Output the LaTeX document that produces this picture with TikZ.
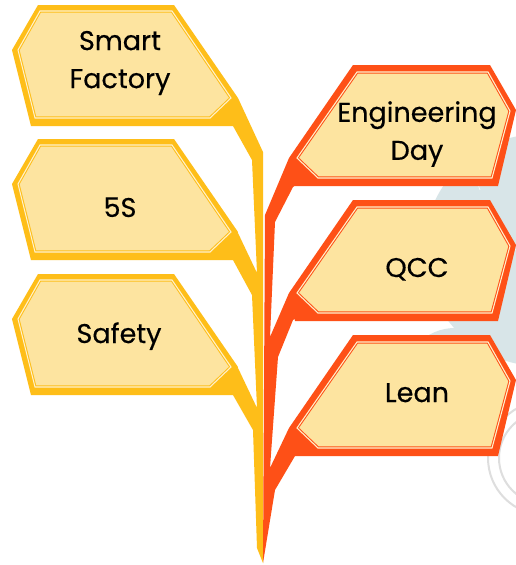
\documentclass[tikz,border=0pt]{standalone}
\usepackage{fontspec}
\setmainfont{Poppins}
\newfontfamily\labelfont{Poppins}[FakeBold=0.35]
\definecolor{ybord}{HTML}{FEBE19}
\definecolor{obord}{HTML}{FE5017}
\definecolor{cream}{HTML}{FDE4A0}
\definecolor{lightline}{HTML}{FFF1CC}
\definecolor{bgblue}{HTML}{D8E5E8}
\definecolor{ring}{HTML}{DEDEDE}
\newcommand\yellowbox[1]{%
\begin{scope}[shift={(0,#1)}]
\fill[ybord] (38,0) -- (174,0) -- (238,93) -- (233,121) -- (31,121) -- (12,45) -- cycle;
\path[innerbox, draw=ybord] (40,6) -- (172,6) -- (231,93) -- (210,113) -- (35,113) -- (18,45) -- cycle;
\end{scope}}
\newcommand\orangebox[1]{%
\begin{scope}[shift={(0,#1)}]
\fill[obord] (353,0) -- (490,0) -- (516,45) -- (498,121) -- (295,121) -- (289,93) -- cycle;
\path[innerbox, draw=obord] (357,7) -- (488,7) -- (510,46) -- (492,113) -- (318,113) -- (297,93) -- cycle;
\end{scope}}
\begin{document}
\begin{tikzpicture}[x=0.75pt,y=-0.75pt,
  innerbox/.style={fill=cream, line width=0.75pt, double=lightline, double distance=0.8pt},
  label/.style={font=\labelfont\fontsize{20.3}{28.5}\selectfont, align=center, inner sep=0pt, text=black}]
\clip (0,0) rectangle (516,565);
\fill[white] (0,0) rectangle (516,565);
% background decoration
\fill[bgblue] (540,250) circle[radius=116];
\draw[white, line width=0.6pt, opacity=0.7] (470,300) arc[start angle=200, end angle=250, radius=90];
\draw[white, line width=0.6pt, opacity=0.7] (480,190) arc[start angle=160, end angle=200, radius=120];
\fill[bgblue] (455,380) circle[radius=52];
\draw[ring, line width=1.5pt] (545,458) circle[radius=57];
\draw[ring, line width=1.5pt] (545,458) circle[radius=46];
% yellow stem
\fill[ybord] (238,98) -- (263,152) -- (263,563) -- (257,548) -- (253,430) -- (233,395) -- (215,380) -- (238,368)
  -- (257,408) -- (252,295) -- (233,260) -- (215,245) -- (238,233) -- (257,273) -- (252,160) -- (233,126) -- (215,110) -- cycle;
% orange stem
\fill[obord] (289,158) -- (265,215) -- (263,563) -- (275,490) -- (295,456) -- (320,440) -- (289,428) -- (270,468)
  -- (278,357) -- (293,320) -- (318,305) -- (289,293) -- (270,337) -- (275,222) -- (293,187) -- (318,172) -- cycle;
% boxes
\yellowbox{5}
\yellowbox{139}
\yellowbox{274}
\orangebox{65}
\orangebox{200}
\orangebox{335}
% labels
\node[label] (smart) at (120,63) {Smart\\Factory};
\node[label, anchor=base] (fives) at (120,217) {5S};
\node[label, anchor=base] (safety) at (119,343) {Safety};
\node[label] (eng) at (417,134) {Engineering\\Day};
\node[label, anchor=base] (qcc) at (417,277) {QCC};
\node[label, anchor=base] (lean) at (417,402) {Lean};
\end{tikzpicture}
\end{document}
